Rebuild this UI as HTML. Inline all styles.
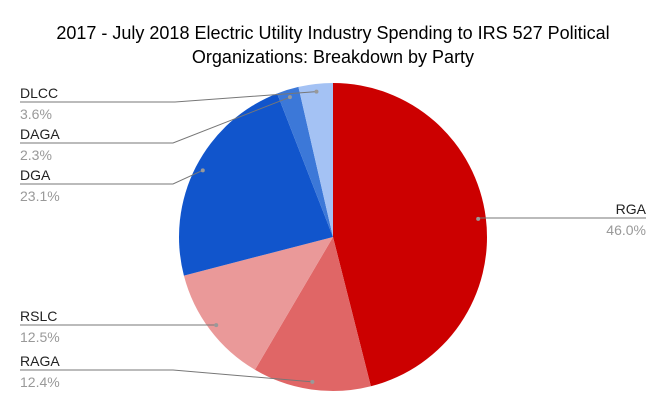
<!DOCTYPE html>
<html><head><meta charset="utf-8"><style>
body{margin:0;background:#fff;}
svg{display:block;font-family:"Liberation Sans",Roboto,sans-serif;}
</style></head><body>
<svg id="chart" width="667" height="412">
<text x="333" y="39" text-anchor="middle" font-size="18" fill="#000">2017 - July 2018 Electric Utility Industry Spending to IRS 527 Political</text>
<text x="333" y="63" text-anchor="middle" font-size="18" fill="#000">Organizations: Breakdown by Party</text>
<g id="slices"></g><g id="labels"></g>
</svg>
<script>
const categories=["RGA","RAGA","RSLC","DGA","DAGA","DLCC"];
const values=[46.0,12.4,12.5,23.1,2.3,3.6];
const colors=["#cc0000","#e06666","#ea9999","#1155cc","#3c78d8","#a4c2f4"];
// label layout: [side, lineY, elbowX]
const labelLayout=[["R",218,0],["L",370,173],["L",325,0],["L",184,173],["L",143,173],["L",102,175]];
const cx=333,cy=237,r=154;
const NS="http://www.w3.org/2000/svg";
const sg=document.getElementById('slices'),lg=document.getElementById('labels');
const total=values.reduce((a,b)=>a+b,0);
function pt(a,rr){return [cx+rr*Math.sin(a),cy-rr*Math.cos(a)];}
let acc=0;
values.forEach((v,i)=>{
  const a0=acc/total*2*Math.PI,a1=(acc+v)/total*2*Math.PI;acc+=v;
  const p0=pt(a0,r),p1=pt(a1,r),large=(a1-a0)>Math.PI?1:0;
  const p=document.createElementNS(NS,'path');
  p.setAttribute('d',`M${cx},${cy}L${p0[0]},${p0[1]}A${r},${r} 0 ${large} 1 ${p1[0]},${p1[1]}Z`);
  p.setAttribute('fill',colors[i]);
  
  
  sg.appendChild(p);
  const am=(a0+a1)/2,d=pt(am,r*0.95);
  const [side,ly,ex]=labelLayout[i];
  const pl=document.createElementNS(NS,'polyline');
  let pts;
  if(side==="R")pts=`${d[0]},${d[1]} ${d[0]},${ly} 646,${ly}`;
  else if(ex)pts=`${d[0]},${d[1]} ${ex},${ly} 20,${ly}`;
  else pts=`${d[0]},${d[1]} ${d[0]},${ly} 20,${ly}`;
  pl.setAttribute('points',pts);pl.setAttribute('fill','none');pl.setAttribute('stroke','#777');pl.setAttribute('stroke-width','1');
  
  
  lg.appendChild(pl);
  const c=document.createElementNS(NS,'circle');
  c.setAttribute('cx',d[0]);c.setAttribute('cy',d[1]);c.setAttribute('r','2');c.setAttribute('fill','#999');
  
  
  lg.appendChild(c);
  const tx=side==="R"?646:20,anch=side==="R"?"end":"start";
  const t1=document.createElementNS(NS,'text');
  t1.setAttribute('x',tx);t1.setAttribute('y',ly-4);t1.setAttribute('text-anchor',anch);t1.setAttribute('font-size','14');t1.setAttribute('fill','#222');
  t1.textContent=categories[i];
  
  
  lg.appendChild(t1);
  const t2=document.createElementNS(NS,'text');
  t2.setAttribute('x',tx);t2.setAttribute('y',ly+17);t2.setAttribute('text-anchor',anch);t2.setAttribute('font-size','14');t2.setAttribute('fill','#999');
  t2.textContent=v.toFixed(1)+'%';
  
  
  lg.appendChild(t2);
});
</script>
</body></html>
